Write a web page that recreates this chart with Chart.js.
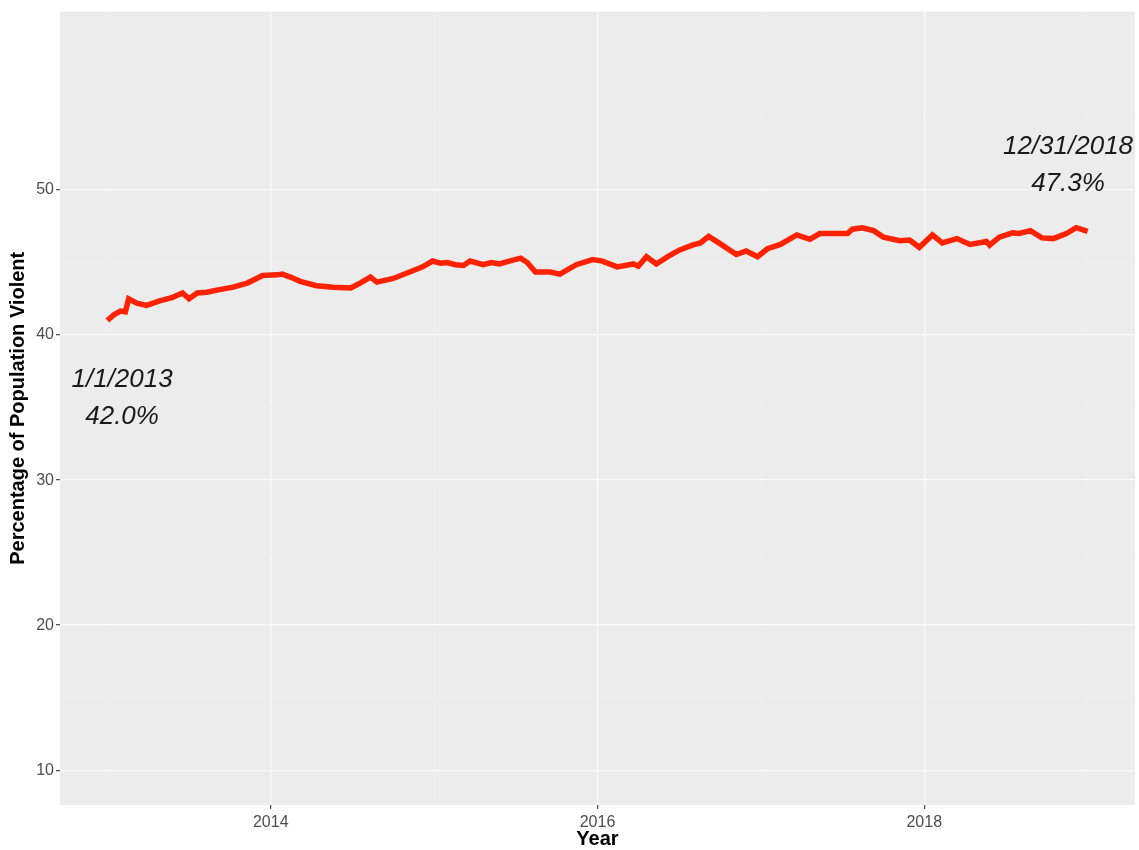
<!DOCTYPE html>
<html>
<head>
<meta charset="utf-8">
<script src="https://cdn.jsdelivr.net/npm/chart.js@4/dist/chart.umd.min.js"></script>
<style>
  body { margin: 0; background: #ffffff; }
  canvas { display: block; }
</style>
</head>
<body>
<canvas id="grafic" width="1139" height="850"></canvas>
<script>
// Dades llegides del gràfic (any decimal, % de població violenta)
const anys = [
    2013.00, 2013.04, 2013.08, 2013.11, 2013.13, 2013.18, 2013.24, 2013.32, 2013.40, 2013.46,
    2013.50, 2013.55, 2013.61, 2013.67, 2013.77, 2013.86, 2013.95, 2014.04, 2014.07, 2014.12,
    2014.18, 2014.28, 2014.38, 2014.49, 2014.55, 2014.61, 2014.65, 2014.75, 2014.85, 2014.93,
    2014.99, 2015.04, 2015.08, 2015.13, 2015.18, 2015.22, 2015.30, 2015.35, 2015.40, 2015.46,
    2015.53, 2015.57, 2015.62, 2015.71, 2015.77, 2015.87, 2015.97, 2016.03, 2016.12, 2016.22,
    2016.25, 2016.30, 2016.36, 2016.43, 2016.50, 2016.58, 2016.63, 2016.68, 2016.75, 2016.85,
    2016.91, 2016.98, 2017.04, 2017.12, 2017.22, 2017.30, 2017.36, 2017.46, 2017.53, 2017.56,
    2017.62, 2017.69, 2017.75, 2017.85, 2017.91, 2017.97, 2018.05, 2018.11, 2018.20, 2018.28,
    2018.38, 2018.40, 2018.46, 2018.54, 2018.58, 2018.65, 2018.72, 2018.79, 2018.87, 2018.93,
    2019.00
];
const percentatges = [
    41.0, 41.4, 41.65, 41.6, 42.5, 42.2, 42.05, 42.35, 42.6, 42.9,
    42.5, 42.9, 42.95, 43.1, 43.3, 43.6, 44.1, 44.15, 44.2, 44.0,
    43.7, 43.4, 43.3, 43.25, 43.6, 44.0, 43.65, 43.9, 44.35, 44.7,
    45.1, 44.95, 45.0, 44.85, 44.8, 45.1, 44.85, 45.0, 44.9, 45.1,
    45.3, 45.0, 44.35, 44.35, 44.2, 44.85, 45.2, 45.1, 44.7, 44.9,
    44.75, 45.4, 44.9, 45.4, 45.85, 46.2, 46.35, 46.8, 46.3, 45.55,
    45.8, 45.4, 45.95, 46.25, 46.9, 46.6, 47.0, 47.0, 47.0, 47.3,
    47.4, 47.2, 46.75, 46.5, 46.55, 46.05, 46.9, 46.35, 46.65, 46.25,
    46.45, 46.2, 46.75, 47.05, 47.0, 47.2, 46.7, 46.65, 47.0, 47.4,
    47.15
];

// Etiquetes dels eixos
const ticksY = [10, 15, 20, 25, 30, 35, 40, 45, 50, 55];
const ticksX = [2013, 2014, 2015, 2016, 2017, 2018, 2019];
const anysEtiquetats = [2014, 2016, 2018];

// Anotacions: [any, valor, text]
const anotacions = [
    [2013.09, 36.9, "1/1/2013"],
    [2013.09, 34.4, "42.0%"],
    [2018.88, 53.0, "12/31/2018"],
    [2018.88, 50.4, "47.3%"]
];

const FONT = "'Liberation Sans', Arial, sans-serif";

// Fons gris de l'àrea del gràfic
const fonsGris = {
    id: 'fonsGris',
    beforeDraw(chart) {
        const { ctx, chartArea } = chart;
        ctx.save();
        ctx.fillStyle = '#ECECEC';
        ctx.fillRect(chartArea.left, chartArea.top, chartArea.right - chartArea.left, chartArea.bottom - chartArea.top);
        ctx.restore();
    }
};

// Textos en cursiva dins del gràfic
const textos = {
    id: 'textos',
    afterDatasetsDraw(chart) {
        const { ctx, scales } = chart;
        ctx.save();
        ctx.font = 'italic 26px ' + FONT;
        ctx.fillStyle = '#1a1a1a';
        ctx.textAlign = 'center';
        ctx.textBaseline = 'middle';
        anotacions.forEach(([a, v, t]) => {
            ctx.fillText(t, scales.x.getPixelForValue(a), scales.y.getPixelForValue(v));
        });
        ctx.restore();
    }
};

new Chart(document.getElementById('grafic'), {
    type: 'line',
    data: {
        datasets: [{
            data: anys.map((a, i) => ({ x: a, y: percentatges[i] })),
            borderColor: '#FF2200',
            borderWidth: 5.5,
            pointRadius: 0,
            tension: 0,
            fill: false
        }]
    },
    options: {
        responsive: false,
        animation: false,
        layout: { padding: { top: 4, right: 4, left: 0, bottom: 0 } },
        plugins: { legend: { display: false }, tooltip: { enabled: false } },
        scales: {
            x: {
                type: 'linear',
                min: 2012.71,
                max: 2019.29,
                afterBuildTicks: s => { s.ticks = ticksX.map(v => ({ value: v })); },
                afterFit: s => { s.height = 45; },
                border: { display: false },
                grid: {
                    color: c => anysEtiquetats.includes(c.tick.value) ? '#FAFAFA' : '#EFEFEF',
                    lineWidth: c => anysEtiquetats.includes(c.tick.value) ? 1.3 : 0.8,
                    tickColor: c => anysEtiquetats.includes(c.tick.value) ? '#555555' : 'rgba(0,0,0,0)',
                    tickLength: 4
                },
                ticks: {
                    padding: 4,
                    color: '#4D4D4D',
                    font: { family: FONT, size: 16 },
                    maxRotation: 0,
                    autoSkip: false,
                    callback: v => anysEtiquetats.includes(v) ? String(v) : ''
                },
                title: {
                    display: true,
                    text: 'Year',
                    color: '#000000',
                    font: { family: FONT, size: 20, weight: 'bold' },
                    padding: { top: 0, bottom: -1 }
                }
            },
            y: {
                min: 7.6,
                max: 62.3,
                afterBuildTicks: s => { s.ticks = ticksY.map(v => ({ value: v })); },
                afterFit: s => { s.width = 60; },
                border: { display: false },
                grid: {
                    color: c => c.tick.value % 10 === 0 ? '#FAFAFA' : '#EFEFEF',
                    lineWidth: c => c.tick.value % 10 === 0 ? 1.3 : 0.8,
                    tickColor: c => c.tick.value % 10 === 0 ? '#555555' : 'rgba(0,0,0,0)',
                    tickLength: 4
                },
                ticks: {
                    padding: 2,
                    color: '#4D4D4D',
                    font: { family: FONT, size: 16 },
                    autoSkip: false,
                    callback: v => v % 10 === 0 ? String(v) : ''
                },
                title: {
                    display: true,
                    text: 'Percentage of Population Violent',
                    color: '#000000',
                    font: { family: FONT, size: 20, weight: 'bold' },
                    padding: { top: 6, bottom: 0 }
                }
            }
        }
    },
    plugins: [fonsGris, textos]
});
</script>
</body>
</html>
